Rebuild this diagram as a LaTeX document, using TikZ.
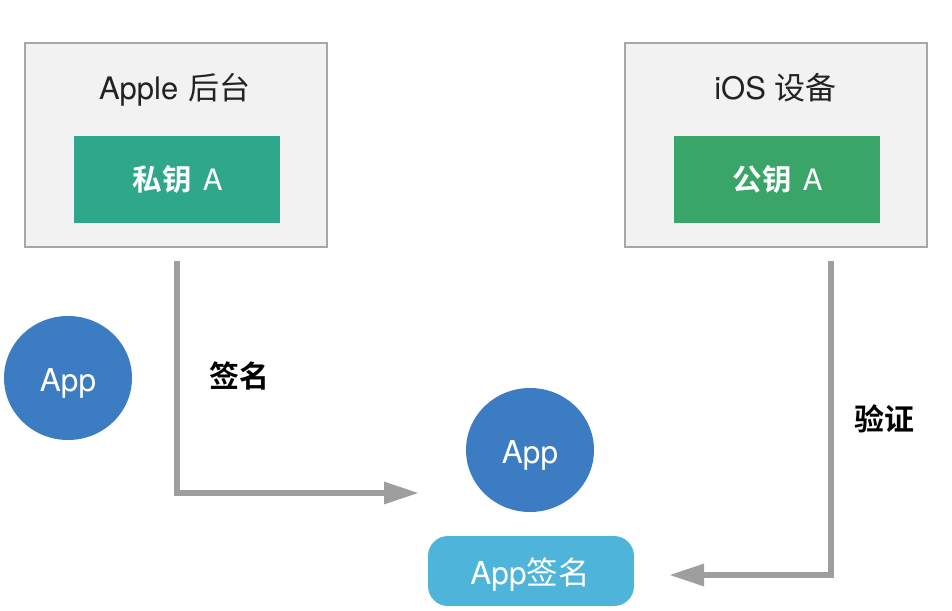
\documentclass[tikz,border=0pt]{standalone}
\usepackage{fontspec}
\setmainfont{TeX Gyre Heros}
\newfontfamily\cjk{Noto Sans CJK SC}[BoldFont={Noto Sans CJK SC Bold}]
\usetikzlibrary{shapes.geometric,arrows.meta}
\definecolor{boxfill}{HTML}{F2F2F2}
\definecolor{boxline}{HTML}{A8A8A8}
\definecolor{privgreen}{HTML}{2FA78A}
\definecolor{pubgreen}{HTML}{3AA568}
\definecolor{appblue}{HTML}{3C7CC3}
\definecolor{signblue}{HTML}{4FB4D9}
\definecolor{arrowgrey}{HTML}{9E9E9E}
\definecolor{inktext}{HTML}{222222}
\tikzset{
  base/.style={inner sep=0pt,outer sep=0pt,text=white,font=\fontsize{31.5}{32}\selectfont},
  keytext/.style={base,font=\fontsize{29.5}{30}\selectfont},
  panel/.style={draw=boxline,line width=1.5pt,fill=boxfill,minimum width=302pt,minimum height=204pt,inner sep=0pt},
  keybox/.style={base,minimum width=206pt,minimum height=87pt},
  appcircle/.style={base,ellipse,fill=appblue,minimum width=128pt,minimum height=124pt},
  signbox/.style={base,rounded corners=20pt,fill=signblue,minimum width=206pt,minimum height=70pt},
  paneltitle/.style={inner sep=0pt,text=inktext,font=\fontsize{31}{32}\selectfont},
  edgelabel/.style={inner sep=0pt,text=black,font=\fontsize{30}{30}\selectfont},
  flow/.style={draw=arrowgrey,line width=6pt,-{Triangle[length=35pt,width=21pt,fill=arrowgrey]},line join=miter}
}
\begin{document}
\begin{tikzpicture}[x=1pt,y=-1pt]
\useasboundingbox (0,0) rectangle (952,610);
\node[panel] (apple) at (176,145) {};
\node[panel] (ios) at (776,145) {};
\node[paneltitle,anchor=base] (appletitle) at (175,99) {Apple\hspace{2pt} {\cjk 后台}};
\node[paneltitle,anchor=base] (iostitle) at (775.5,99) {iOS {\cjk 设备}};
\node[keybox,fill=privgreen] (priv) at (177,179.5) {};
\node[keybox,fill=pubgreen] (pub) at (777,179.5) {};
\node[keytext,anchor=base] (privlabel) at (177.5,190) {{\cjk\bfseries 私钥}\hspace{3pt} A};
\node[keytext,anchor=base] (publabel) at (777.5,190) {{\cjk\bfseries 公钥}\hspace{3pt} A};
\node[appcircle] (app1) at (68,378) {};
\node[base,anchor=base] (app1label) at (68,391) {App};
\node[appcircle] (app2) at (530,450) {};
\node[base,anchor=base] (app2label) at (530,463) {App};
\node[signbox] (sign) at (531,571) {};
\node[base,anchor=base] (signlabel) at (530,584) {App{\cjk 签名}};
\node[edgelabel,anchor=base] (signedge) at (239,387) {\cjk\bfseries 签名};
\node[edgelabel,anchor=base] (verify) at (884,430) {\cjk\bfseries 验证};
\coordinate (s1) at (177,261);
\coordinate (e1) at (419,493);
\coordinate (s2) at (831,261);
\coordinate (e2) at (669,575);
\draw[flow] (s1) |- (e1);
\draw[flow] (s2) |- (e2);
\end{tikzpicture}
\end{document}
